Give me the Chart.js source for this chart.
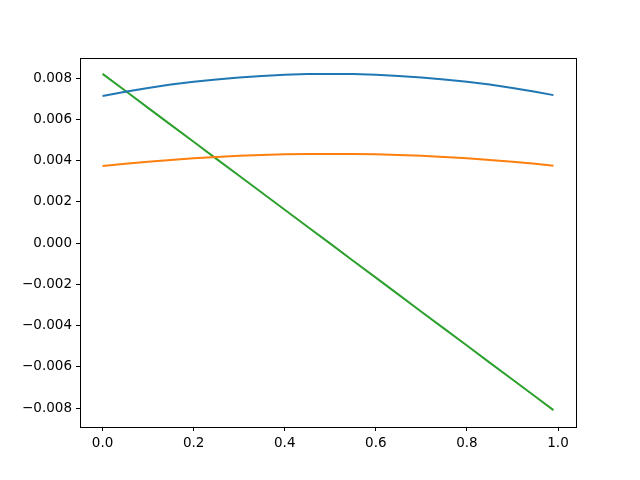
<!DOCTYPE html>
<html>
<head>
<meta charset="utf-8">
<script src="https://cdn.jsdelivr.net/npm/chart.js@4/dist/chart.umd.min.js"></script>
<style>
  html, body { margin: 0; padding: 0; background: #fff; }
  #wrap { width: 640px; height: 480px; }
</style>
</head>
<body>
<div id="wrap"><canvas id="chart" width="640" height="480"></canvas></div>
<script>
// x positions
const xValues = [0, 0.05, 0.1, 0.15, 0.2, 0.25, 0.3, 0.35, 0.4, 0.45, 0.5,
  0.55, 0.6, 0.65, 0.7, 0.75, 0.8, 0.85, 0.9, 0.95, 0.99];

const blueValues = [0.00713, 0.00733, 0.00752, 0.00768, 0.00782, 0.00793, 0.00803, 0.00810, 0.00816, 0.00819, 0.00820,
  0.00819, 0.00816, 0.00810, 0.00803, 0.00793, 0.00782, 0.00768, 0.00752, 0.00733, 0.00717];

const orangeValues = [0.00373, 0.00384, 0.00394, 0.00403, 0.00411, 0.00417, 0.00423, 0.00427, 0.00430, 0.00431, 0.00432,
  0.00431, 0.00430, 0.00427, 0.00423, 0.00417, 0.00411, 0.00403, 0.00394, 0.00384, 0.00375];

const greenValues = [0.00820, 0.00738, 0.00655, 0.00573, 0.00491, 0.00408, 0.00326, 0.00244, 0.00161, 0.00079, -0.00003,
  -0.00086, -0.00168, -0.00250, -0.00333, -0.00415, -0.00497, -0.00580, -0.00662, -0.00744, -0.00810];

const xTicks = [0, 0.2, 0.4, 0.6, 0.8, 1.0];
const yTicks = [-0.008, -0.006, -0.004, -0.002, 0, 0.002, 0.004, 0.006, 0.008];

const toPoints = (ys) => xValues.map((x, i) => ({ x: x, y: ys[i] }));

// frame around the plot area (matplotlib style box)
const frame = {
  id: "frame",
  afterDatasetsDraw(chart) {
    const a = chart.chartArea;
    const ctx = chart.ctx;
    ctx.save();
    ctx.strokeStyle = "#000";
    ctx.lineWidth = 1;
    ctx.strokeRect(Math.round(a.left) + 0.5, Math.round(a.top) + 0.5,
      Math.round(a.right - a.left), Math.round(a.bottom - a.top));
    ctx.restore();
  },
};

const font = { family: "'DejaVu Sans', sans-serif", size: 13.5 };

new Chart(document.getElementById("chart").getContext("2d"), {
  type: "line",
  data: {
    datasets: [
      { data: toPoints(blueValues), borderColor: "#1f77b4", borderWidth: 2 },
      { data: toPoints(orangeValues), borderColor: "#ff7f0e", borderWidth: 2 },
      { data: toPoints(greenValues), borderColor: "#2ca02c", borderWidth: 2 },
    ],
  },
  options: {
    responsive: false,
    animation: false,
    events: [],
    layout: { padding: { top: 58, right: 64, left: 0, bottom: 0 } },
    elements: { point: { radius: 0 }, line: { tension: 0 } },
    plugins: { legend: { display: false }, tooltip: { enabled: false } },
    scales: {
      x: {
        type: "linear",
        min: -0.0495,
        max: 1.0395,
        afterBuildTicks: (s) => { s.ticks = xTicks.map((v) => ({ value: v })); },
        afterFit: (s) => { s.height = 53; },
        ticks: { color: "#000", font: font, padding: 4, maxRotation: 0,
          callback: (v) => v.toFixed(1) },
        grid: { drawOnChartArea: false, color: "#000", tickLength: 4 },
        border: { display: false },
      },
      y: {
        type: "linear",
        min: -0.00892,
        max: 0.00897,
        afterBuildTicks: (s) => { s.ticks = yTicks.map((v) => ({ value: v })); },
        afterFit: (s) => { s.width = 80; },
        ticks: { color: "#000", font: font, padding: 4,
          callback: (v) => (v < 0 ? "\u2212" : "") + Math.abs(v).toFixed(3) },
        grid: { drawOnChartArea: false, color: "#000", tickLength: 4 },
        border: { display: false },
      },
    },
  },
  plugins: [frame],
});
</script>
</body>
</html>
